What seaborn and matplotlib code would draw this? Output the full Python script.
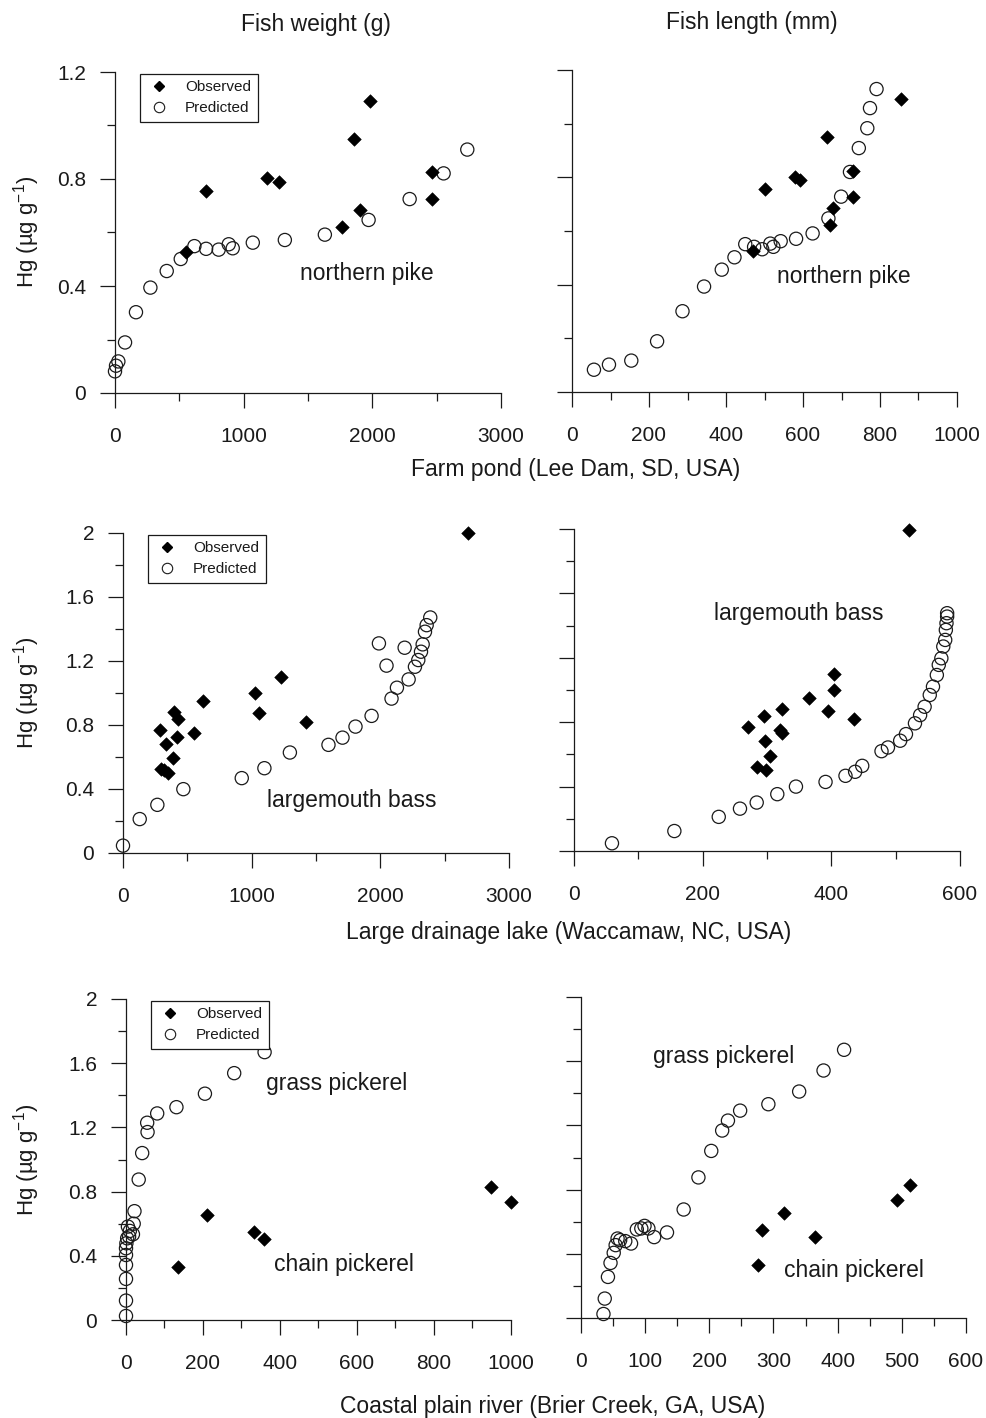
import matplotlib
matplotlib.use('Agg')
import matplotlib.pyplot as plt
from matplotlib.ticker import MultipleLocator, FuncFormatter
from matplotlib.lines import Line2D
import seaborn as sns

# northern pike, farm pond (Lee Dam)
pike_obs_hg = [0.756, 0.526, 0.802, 0.789, 0.951, 1.093, 0.684, 0.622, 0.825, 0.725]
pike_obs_weight = [708, 550, 1185, 1276, 1857, 1978, 1901, 1763, 2461, 2461]
pike_obs_length = [502, 469, 580, 591, 662, 855, 679, 669, 731, 731]

pike_pred_weight = [0, 8, 26, 78, 163, 275, 402, 511, 617, 708, 806, 884, 915, 1071,
                    1320, 1631, 1971, 2290, 2554, 2738]
pike_pred_hg_w = [0.081, 0.102, 0.118, 0.189, 0.302, 0.394, 0.456, 0.501, 0.549, 0.539,
                  0.536, 0.556, 0.541, 0.562, 0.572, 0.592, 0.647, 0.725, 0.821, 0.910]
pike_pred_length = [57, 96, 154, 221, 287, 343, 389, 422, 450, 473, 494, 515, 523, 542,
                    582, 625, 666, 699, 722, 745, 767, 774, 791]
pike_pred_hg_l = [0.083, 0.102, 0.117, 0.189, 0.301, 0.393, 0.456, 0.502, 0.551, 0.541,
                  0.532, 0.553, 0.541, 0.562, 0.571, 0.591, 0.647, 0.728, 0.820, 0.909,
                  0.983, 1.058, 1.129]

# largemouth bass, large drainage lake (Waccamaw)
bass_obs_weight = [2684, 290, 337, 394, 428, 420, 389, 293, 316, 353, 552, 622, 1027,
                   1058, 1226, 1421]
bass_obs_hg_w = [2.0, 0.769, 0.680, 0.884, 0.838, 0.728, 0.593, 0.524, 0.520, 0.499,
                 0.751, 0.950, 1.002, 0.873, 1.102, 0.821]
bass_obs_length = [520, 271, 296, 324, 297, 320, 324, 305, 284, 299, 366, 395, 404, 404, 435]
bass_obs_hg_l = [1.996, 0.770, 0.838, 0.880, 0.683, 0.751, 0.730, 0.589, 0.523, 0.502,
                 0.952, 0.869, 1.100, 1.000, 0.820]

bass_pred_weight = [0, 130, 267, 469, 923, 1099, 1297, 1597, 1706, 1807, 1932, 1989, 2048,
                    2087, 2129, 2189, 2220, 2269, 2295, 2316, 2329, 2347, 2360, 2388]
bass_pred_hg_w = [0.046, 0.212, 0.301, 0.399, 0.468, 0.530, 0.628, 0.676, 0.721, 0.790,
                  0.857, 1.310, 1.171, 0.965, 1.033, 1.283, 1.085, 1.164, 1.206, 1.258,
                  1.304, 1.383, 1.424, 1.472]
bass_pred_length = [59, 156, 225, 258, 284, 316, 345, 391, 422, 437, 448, 478, 488, 507,
                    516, 530, 538, 545, 553, 558, 564, 567, 571, 574, 577, 578, 579, 580, 580]
bass_pred_hg_l = [0.048, 0.124, 0.212, 0.263, 0.301, 0.353, 0.400, 0.429, 0.467, 0.492,
                  0.529, 0.620, 0.643, 0.685, 0.726, 0.793, 0.844, 0.896, 0.969, 1.021,
                  1.093, 1.156, 1.197, 1.270, 1.311, 1.373, 1.415, 1.456, 1.477]

# chain (observed) and grass (predicted) pickerel, coastal plain river (Brier Creek)
chain_obs_hg = [0.330, 0.657, 0.548, 0.505, 0.829, 0.738]
chain_obs_weight = [135, 210, 332, 359, 948, 1001]
chain_obs_length = [276, 316, 282, 365, 513, 492]

grass_pred_weight = [360, 281, 205, 131, 81, 55, 56, 42, 33, 22, 20, 5, 10, 18, 8, 3, 1,
                     0, 0, 0, 0, 0, 0]
grass_pred_hg_w = [1.669, 1.538, 1.410, 1.326, 1.287, 1.229, 1.171, 1.040, 0.875, 0.678,
                   0.600, 0.582, 0.555, 0.534, 0.520, 0.509, 0.478, 0.447, 0.405, 0.343,
                   0.256, 0.121, 0.025]
grass_pred_length = [35, 37, 42, 46, 51, 54, 57, 61, 69, 78, 87, 94, 99, 105, 114, 134,
                     160, 183, 203, 220, 229, 248, 292, 340, 378, 410]
grass_pred_hg_l = [0.025, 0.121, 0.256, 0.343, 0.406, 0.454, 0.495, 0.485, 0.479, 0.464,
                   0.552, 0.558, 0.574, 0.558, 0.504, 0.533, 0.676, 0.876, 1.041, 1.168,
                   1.230, 1.292, 1.332, 1.411, 1.542, 1.671]

sns.set_style('ticks')
plt.rcParams['font.family'] = ['Liberation Sans', 'DejaVu Sans']
plt.rcParams['mathtext.fontset'] = 'custom'
plt.rcParams['mathtext.rm'] = 'Liberation Sans'
plt.rcParams['mathtext.default'] = 'regular'
plt.rcParams['text.color'] = '#1a1a1a'

W, H = 987, 1418
fig = plt.figure(figsize=(W / 100, H / 100), dpi=100)


def make_ax(left, right, top, bottom):
    return fig.add_axes([left / W, 1 - bottom / H, (right - left) / W, (bottom - top) / H])


def style(ax, xmax, xstep, ymax, ylabels=True):
    ax.set_xlim(0, xmax)
    ax.set_ylim(0, ymax)
    ax.xaxis.set_major_locator(MultipleLocator(xstep))
    ax.xaxis.set_minor_locator(MultipleLocator(xstep / 2))
    ax.yaxis.set_major_locator(MultipleLocator(0.4))
    ax.yaxis.set_minor_locator(MultipleLocator(0.2))
    fmt = FuncFormatter(lambda v, p: f'{v:g}')
    ax.xaxis.set_major_formatter(fmt)
    ax.yaxis.set_major_formatter(fmt)
    sns.despine(ax=ax)
    for s in ('left', 'bottom'):
        ax.spines[s].set_linewidth(0.9)
        ax.spines[s].set_color('#1a1a1a')
    ax.tick_params(which='major', length=10.8, width=0.9, color='#1a1a1a',
                   labelsize=15, labelcolor='#1a1a1a')
    ax.tick_params(which='minor', length=5.8, width=0.9, color='#1a1a1a')
    ax.tick_params(axis='x', which='major', pad=14)
    ax.tick_params(axis='y', which='major', pad=10, labelleft=ylabels)
    ax.set_xlabel('')
    ax.set_ylabel('')


def draw(ax, px, py, ox, oy):
    sns.scatterplot(x=px, y=py, ax=ax, marker='o', s=90, facecolor='none',
                    edgecolor='#1a1a1a', linewidth=0.9, clip_on=False, zorder=3, legend=False)
    sns.scatterplot(x=ox, y=oy, ax=ax, marker='D', s=48, color='black',
                    edgecolor='black', linewidth=0.4, clip_on=False, zorder=4, legend=False)


def add_legend(ax):
    handles = [Line2D([], [], ls='none', marker='D', ms=5.5, color='black', label='Observed'),
               Line2D([], [], ls='none', marker='o', ms=7.5, mfc='none', mec='#1a1a1a',
                      mew=0.8, label='Predicted')]
    leg = ax.legend(handles=handles, loc='upper left', bbox_to_anchor=(0.065, 0.995),
                    borderaxespad=0, fontsize=11, frameon=True, fancybox=False,
                    framealpha=1, edgecolor='#1a1a1a', handlelength=1.6,
                    handletextpad=0.9, borderpad=0.45, labelspacing=0.45)
    leg.get_frame().set_linewidth(0.9)


ax1 = make_ax(115, 501, 72, 393)
draw(ax1, pike_pred_weight, pike_pred_hg_w, pike_obs_weight, pike_obs_hg)
style(ax1, 3000, 1000, 1.2)
add_legend(ax1)
ax1.text(1958, 0.448, 'northern pike', ha='center', va='center', fontsize=16.5)

ax2 = make_ax(572, 957, 70, 392)
draw(ax2, pike_pred_length, pike_pred_hg_l, pike_obs_length, pike_obs_hg)
style(ax2, 1000, 200, 1.2, ylabels=False)
ax2.text(705, 0.432, 'northern pike', ha='center', va='center', fontsize=16.5)

ax3 = make_ax(123, 509, 533, 853)
draw(ax3, bass_pred_weight, bass_pred_hg_w, bass_obs_weight, bass_obs_hg_w)
style(ax3, 3000, 1000, 2.0)
add_legend(ax3)
ax3.text(1781, 0.328, 'largemouth bass', ha='center', va='center', fontsize=16.5)

ax4 = make_ax(574, 960, 529, 851)
draw(ax4, bass_pred_length, bass_pred_hg_l, bass_obs_length, bass_obs_hg_l)
style(ax4, 600, 200, 2.0, ylabels=False)
ax4.text(349, 1.473, 'largemouth bass', ha='center', va='center', fontsize=16.5)

ax5 = make_ax(126, 511, 999, 1320)
draw(ax5, grass_pred_weight, grass_pred_hg_w, chain_obs_weight, chain_obs_hg)
style(ax5, 1000, 200, 2.0)
add_legend(ax5)
ax5.text(548, 1.476, 'grass pickerel', ha='center', va='center', fontsize=16.5)
ax5.text(565, 0.343, 'chain pickerel', ha='center', va='center', fontsize=16.5)

ax6 = make_ax(581, 966, 997, 1318)
draw(ax6, grass_pred_length, grass_pred_hg_l, chain_obs_length, chain_obs_hg)
style(ax6, 600, 100, 2.0, ylabels=False)
ax6.text(222, 1.63, 'grass pickerel', ha='center', va='center', fontsize=16.5)
ax6.text(425, 0.298, 'chain pickerel', ha='center', va='center', fontsize=16.5)

# column headings, site labels, y labels
fig.text(316 / W, 1 - 25 / H, 'Fish weight (g)', ha='center', va='center', fontsize=16.5)
fig.text(752 / W, 1 - 23 / H, 'Fish length (mm)', ha='center', va='center', fontsize=16.5)
fig.text(576 / W, 1 - 470 / H, 'Farm pond (Lee Dam, SD, USA)', ha='center', va='center',
         fontsize=16.5)
fig.text(569 / W, 1 - 932 / H, 'Large drainage lake (Waccamaw, NC, USA)', ha='center',
         va='center', fontsize=16.5)
fig.text(553 / W, 1 - 1406 / H, 'Coastal plain river (Brier Creek, GA, USA)', ha='center',
         va='center', fontsize=16.5)
for yc in (232, 693, 1160):
    fig.text(27 / W, 1 - yc / H, 'Hg (µg g$^{-1}$)', rotation=90, ha='center', va='center',
             fontsize=16)

fig.savefig('out.png', dpi=100)
